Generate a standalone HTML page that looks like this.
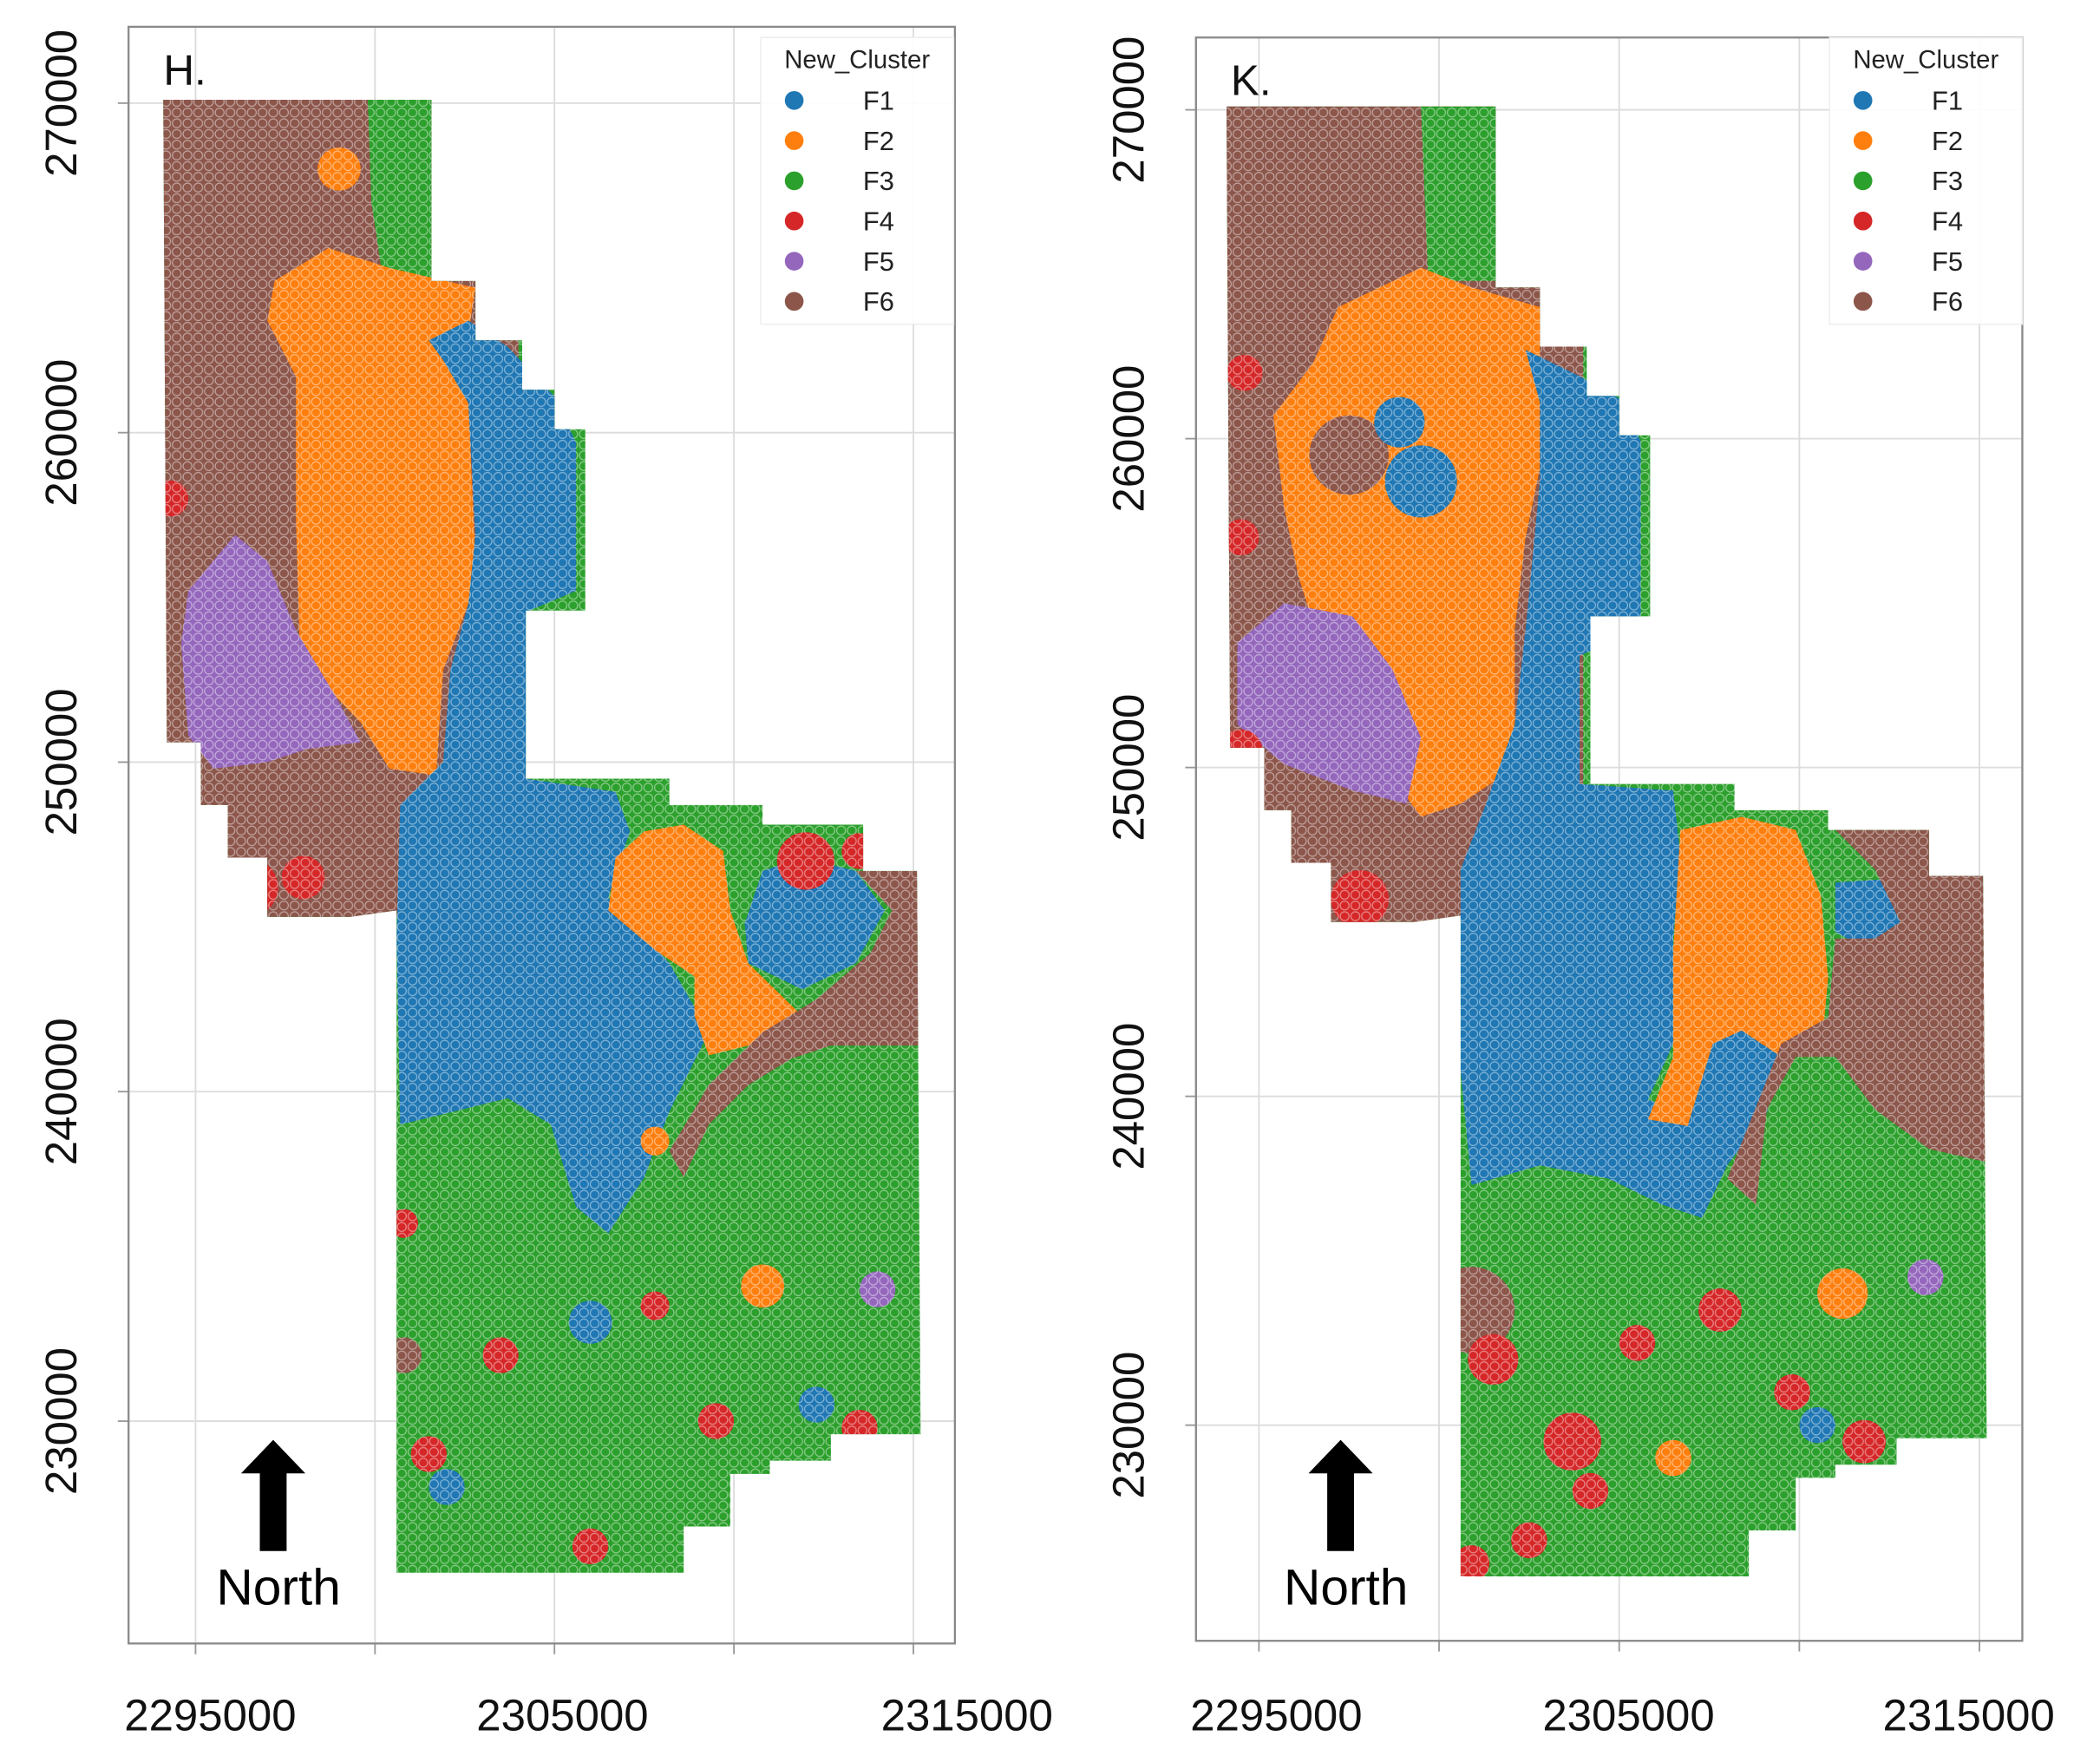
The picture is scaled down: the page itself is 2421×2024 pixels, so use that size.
<!DOCTYPE html>
<html><head><meta charset="utf-8"><style>
html,body{margin:0;padding:0;background:#fff;}
svg{display:block;}
</style></head><body>
<svg id="chart" xmlns="http://www.w3.org/2000/svg" width="2421" height="2024" viewBox="0 0 1568 1311" preserveAspectRatio="none">
<defs>
<pattern id="dots" width="8" height="8" patternUnits="userSpaceOnUse">
<circle cx="4" cy="4" r="3.3" fill="none" stroke="#ffffff" stroke-opacity="0.45" stroke-width="0.8"/>
</pattern>
</defs>
</svg>
<script>
// ---------- data (x in km offset units: value = km*1000, y likewise) ----------
const xTicks = [2295000, 2305000, 2315000];
const xGrid = [2295000, 2300000, 2305000, 2310000, 2315000];
const yTicks = [270000, 260000, 250000, 240000, 230000];
const categories = ["F1","F2","F3","F4","F5","F6"];
const colors = ["#1f77b4","#ff7f0e","#2ca02c","#d62728","#9467bd","#8c564b"];
const footprint = [[2294.1,270.1],[2301.57,270.1],[2301.57,264.6],[2302.8,264.6],[2302.8,262.8],[2304.1,262.8],[2304.1,261.3],[2305.0,261.3],[2305.0,260.1],[2305.86,260.1],[2305.86,254.6],[2304.2,254.6],[2304.2,249.5],[2308.2,249.5],[2308.2,248.7],[2310.8,248.7],[2310.8,248.1],[2313.6,248.1],[2313.6,246.7],[2315.1,246.7],[2315.2,229.6],[2312.7,229.6],[2312.7,228.8],[2311.0,228.8],[2311.0,228.4],[2309.9,228.4],[2309.9,226.8],[2308.6,226.8],[2308.6,225.4],[2300.6,225.4],[2300.6,245.5],[2299.3,245.3],[2297.0,245.3],[2297.0,247.1],[2295.9,247.1],[2295.9,248.7],[2295.15,248.7],[2295.15,250.6],[2294.2,250.6]];
const brownBase = [[2293,271],[2304,271],[2304,245.3],[2293,245.3]];
// Panel H regions
const hGreenTop = [[2299.8,270.1],[2301.6,270.1],[2301.6,264.6],[2300.2,264.8],[2299.9,267]];
const hOrange = [[2297.2,264.6],[2298.7,265.6],[2300.4,265.0],[2302.8,264.4],[2302.6,263.0],[2301.9,262.8],[2302.6,260.9],[2302.8,256.1],[2302.6,254.8],[2301.9,252.8],[2301.7,249.6],[2300.4,249.8],[2299.6,251.2],[2298.9,252.0],[2297.9,253.6],[2297.8,257.3],[2297.8,261.7],[2297.0,263.4]];
const hPurple = [[2294.8,255.2],[2296.1,256.9],[2297.0,256.1],[2297.8,254.0],[2298.9,252.0],[2299.6,250.6],[2298.1,250.4],[2297.0,250.0],[2295.5,249.8],[2294.8,250.8],[2294.6,253.6]];
const hBlue = [[2301.5,262.8],[2302.6,263.4],[2303.7,262.6],[2305.0,261.1],[2305.6,259.7],[2305.6,255.2],[2304.3,254.6],[2304.2,249.5],[2306.7,249.1],[2307.1,247.9],[2306.5,245.9],[2308.2,243.9],[2309.3,241.8],[2308.2,239.4],[2307.5,237.4],[2306.5,235.7],[2305.6,236.5],[2304.9,239.0],[2303.7,239.8],[2302.2,239.4],[2300.7,239.0],[2300.6,244.7],[2300.7,248.7],[2301.9,250.0],[2302.1,252.8],[2302.6,254.8],[2302.8,256.9],[2302.6,260.9],[2301.9,262.2]];
const hOrangeR = [[2306.7,247.1],[2307.5,247.9],[2308.6,248.1],[2309.7,247.3],[2309.9,245.5],[2310.4,243.9],[2311.9,242.3],[2310.8,241.5],[2309.3,241.1],[2308.9,242.3],[2308.9,243.5],[2307.8,244.3],[2306.5,245.5]];
const hBlueR = [[2310.3,245.1],[2310.8,246.7],[2311.9,247.1],[2313.4,246.7],[2314.2,245.5],[2313.4,243.9],[2311.9,243.1],[2310.4,243.9]];
const hBrownR = [[2313.4,246.7],[2315.1,246.7],[2315.2,241.4],[2312.7,241.4],[2311.6,241.0],[2310.4,240.2],[2309.3,239.0],[2308.6,237.4],[2308.2,238.2],[2309.3,240.2],[2310.8,241.8],[2312.3,242.8],[2313.8,244.2],[2314.4,245.5]];
const hRed = [[2296.5,246.2,0.8],[2298,246.5,0.6],[2294.3,258,0.5],[2312,247,0.8],[2313.5,247.3,0.5],[2303.5,232,0.5],[2300.8,236,0.4],[2301.5,229,0.5],[2306,226.2,0.5],[2313.5,229.8,0.5],[2309.5,230,0.5],[2307.8,233.5,0.4]];
const hBlobs = [[2310.8,234.1,0.6,1],[2314,234,0.5,4],[2306,233,0.6,0],[2302,228,0.5,0],[2312.3,230.5,0.5,0],[2307.8,238.5,0.4,1],[2299,268,0.6,1],[2300.8,232,0.5,5]];
// Panel K regions
const kGreenTop = [[2299.5,270.1],[2301.6,270.1],[2301.6,264.8],[2299.7,264.8]];
const kOrange = [[2297.2,264.0],[2299.5,265.2],[2300.9,264.6],[2302.8,264.0],[2302.8,259.1],[2302.4,257.0],[2302.1,254.2],[2302.1,251.3],[2301.7,249.7],[2300.6,248.9],[2299.5,248.5],[2298.7,249.7],[2297.6,250.9],[2296.9,253.0],[2296.1,255.8],[2295.7,257.9],[2295.4,260.7],[2296.5,262.3]];
const kPurple = [[2294.4,253.8],[2295.7,255.0],[2297.6,254.6],[2298.7,253.0],[2299.5,250.9],[2299.1,248.9],[2297.6,249.3],[2295.7,250.1],[2294.4,251.3]];
const kBlue = [[2302.4,262.7],[2303.9,261.9],[2305.2,261.1],[2305.6,259.9],[2305.6,254.2],[2303.9,253.4],[2303.9,249.5],[2306.5,249.3],[2306.7,247.3],[2306.5,244.8],[2306.5,241.6],[2305.8,239.9],[2306.9,239.5],[2307.6,242.0],[2308.4,242.4],[2309.5,241.6],[2309.1,239.5],[2308.0,237.9],[2307.3,236.3],[2306.2,236.7],[2304.7,237.5],[2302.8,237.9],[2300.9,237.3],[2300.6,240.8],[2300.6,246.9],[2301.3,248.9],[2302.1,251.3],[2302.4,254.2],[2302.8,258.7],[2302.8,261.1]];
const kOrangeR = [[2306.7,248.1],[2308.4,248.5],[2309.9,248.1],[2310.6,246.1],[2310.8,243.6],[2310.6,241.2],[2309.5,241.2],[2308.4,242.0],[2307.6,241.6],[2306.9,239.1],[2305.8,239.3],[2306.5,241.2],[2306.5,244.4]];
const kBlueR = [[2311.0,246.5],[2312.3,246.6],[2313.0,245.2],[2312.0,244.4],[2311.0,245.0]];
const kBrownR = [[2311.0,248.1],[2313.6,248.1],[2315.1,246.9],[2315.2,238.0],[2313.6,238.4],[2312.1,239.6],[2311.0,241.2],[2309.9,241.2],[2309.1,239.6],[2308.8,236.7],[2308.0,237.5],[2309.5,241.6],[2310.8,242.4],[2311.0,244.8],[2312.1,244.8],[2312.8,245.3],[2312.1,246.9]];
const kRed = [[2294.6,262,0.5],[2294.5,250.5,0.6],[2297.8,246,0.8],[2301.5,232,0.7],[2303.7,229.5,0.8],[2305.5,232.5,0.5],[2307.8,233.5,0.6],[2302.5,226.5,0.5],[2300.9,225.8,0.5],[2311.8,229.5,0.6],[2309.8,231,0.5],[2304.2,228,0.5],[2294.5,257,0.5]];
const kBlobs = [[2297.5,259.5,1.1,5],[2299.5,258.7,1.0,0],[2298.9,260.5,0.7,0],[2311.2,234.0,0.7,1],[2300.9,233.5,1.2,5],[2313.5,234.5,0.5,4],[2310.5,230,0.5,0],[2306.5,229,0.5,1]];
const panels = [
 {label:"H.", name:"panel-h", box:[96,20,713,1227], x0:146, xs:26.8, y0:77, ys:24.6, xl:[157,420,722], yl:45,
  regions:[[brownBase,5],[hGreenTop,2],[hOrange,1],[hPurple,4],[hBlue,0],[hOrangeR,1],[hBlueR,0],[hBrownR,5]], red:hRed, blobs:hBlobs, leg:[568,28,712,242]},
 {label:"K.", name:"panel-k", box:[893,28,1510,1225], x0:940, xs:26.9, y0:82, ys:24.55, xl:[953,1216,1470], yl:842,
  regions:[[brownBase,5],[kGreenTop,2],[kOrange,1],[kPurple,4],[kBlue,0],[kOrangeR,1],[kBlueR,0],[kBrownR,5]], red:kRed, blobs:kBlobs, leg:[1366,28,1510,242]}
];
// ---------- drawing ----------
const svg = document.getElementById('chart');
const NS = "http://www.w3.org/2000/svg";
function mk(tag, attrs, parent){ const e=document.createElementNS(NS,tag); for(const k in attrs) e.setAttribute(k,attrs[k]); (parent||svg).appendChild(e); return e; }
panels.forEach((p,pi)=>{
  const sx = v => p.x0 + (v - 2295) * p.xs;       // v in km
  const sy = v => p.y0 + (270 - v) * p.ys;
  const g = mk('g',{});
  
  
  const [bx0,by0,bx1,by1]=p.box;
  // gridlines
  xGrid.forEach(t=>{ const l=mk('line',{x1:sx(t/1000),x2:sx(t/1000),y1:by0,y2:by1,stroke:'#dcdcdc','stroke-width':1.2},g);
     
    mk('line',{x1:sx(t/1000),x2:sx(t/1000),y1:by1,y2:by1+8,stroke:'#999','stroke-width':1.2},g); });
  yTicks.forEach(t=>{ const l=mk('line',{x1:bx0,x2:bx1,y1:sy(t/1000),y2:sy(t/1000),stroke:'#dcdcdc','stroke-width':1.2},g);
     
    mk('line',{x1:bx0-8,x2:bx0,y1:sy(t/1000),y2:sy(t/1000),stroke:'#999','stroke-width':1.2},g); });
  // clip
  const cid='clip'+pi;
  const cp=mk('clipPath',{id:cid},svg.querySelector('defs'));
  const pts = arr => arr.map(q=>sx(q[0]).toFixed(1)+','+sy(q[1]).toFixed(1)).join(' ');
  mk('polygon',{points:pts(footprint)},cp);
  const fp=mk('polygon',{points:pts(footprint),fill:colors[2]},g);
   
  const cg=mk('g',{'clip-path':'url(#'+cid+')'},g);
  p.regions.forEach(r=>{ const e=mk('polygon',{points:pts(r[0]),fill:colors[r[1]]},cg);
      });
  p.blobs.forEach(b=>{ const e=mk('circle',{cx:sx(b[0]),cy:sy(b[1]),r:b[2]*p.xs,fill:colors[b[3]]},cg);
      });
  p.red.forEach(b=>{ const e=mk('circle',{cx:sx(b[0]),cy:sy(b[1]),r:b[2]*p.xs,fill:colors[3]},cg);
      });
  mk('polygon',{points:pts(footprint),fill:'url(#dots)'},g);
  // frame
  const fr=mk('rect',{x:bx0,y:by0,width:bx1-bx0,height:by1-by0,fill:'none',stroke:'#8a8a8a','stroke-width':1.5},g);
   
  // panel label
  const lb=mk('text',{x:bx0+26,y:by0+43,'font-size':32,'font-family':'Liberation Sans, sans-serif',fill:'#111'},g); lb.textContent=p.label;
   
  // tick labels
  xTicks.forEach((t,i)=>{ const e=mk('text',{x:p.xl[i],y:1292,'font-size':33,'text-anchor':'middle','font-family':'Liberation Sans, sans-serif',fill:'#111'},g); e.textContent=t;
      });
  yTicks.forEach(t=>{ const y=sy(t/1000); const e=mk('text',{x:0,y:0,'font-size':33,'text-anchor':'middle','font-family':'Liberation Sans, sans-serif',fill:'#111',transform:`translate(${p.yl+12},${y}) rotate(-90)`},g); e.textContent=t;
      });
  // legend
  const [lx0,ly0,lx1,ly1]=p.leg;
  const lg=mk('g',{},g);  
  mk('rect',{x:lx0,y:ly0,width:lx1-lx0,height:ly1-ly0,fill:'#fff','fill-opacity':0.9,stroke:'#eee'},lg);
  const lt=mk('text',{x:(lx0+lx1)/2,y:ly0+23,'font-size':19,'text-anchor':'middle','font-family':'Liberation Sans, sans-serif',fill:'#222'},lg); lt.textContent='New_Cluster';
   
  categories.forEach((c,i)=>{ const y=ly0+47+i*30;
    const en=mk('g',{},lg);  
    mk('circle',{cx:lx0+25,cy:y,r:7,fill:colors[i]},en);
    const t=mk('text',{x:lx0+88,y:y+7,'font-size':20,'text-anchor':'middle','font-family':'Liberation Sans, sans-serif',fill:'#222'},en); t.textContent=c; });
  // north arrow
  const ax=bx0+108;
  const na=mk('polygon',{points:`${ax},${1075} ${ax+24},${1100} ${ax+10},${1100} ${ax+10},${1158} ${ax-10},${1158} ${ax-10},${1100} ${ax-24},${1100}`,fill:'#000'},g);
   
  const nt=mk('text',{x:ax+4,y:1198,'font-size':38,'text-anchor':'middle','font-family':'Liberation Sans, sans-serif',fill:'#000'},g); nt.textContent='North';
   
});
</script>
</body></html>
